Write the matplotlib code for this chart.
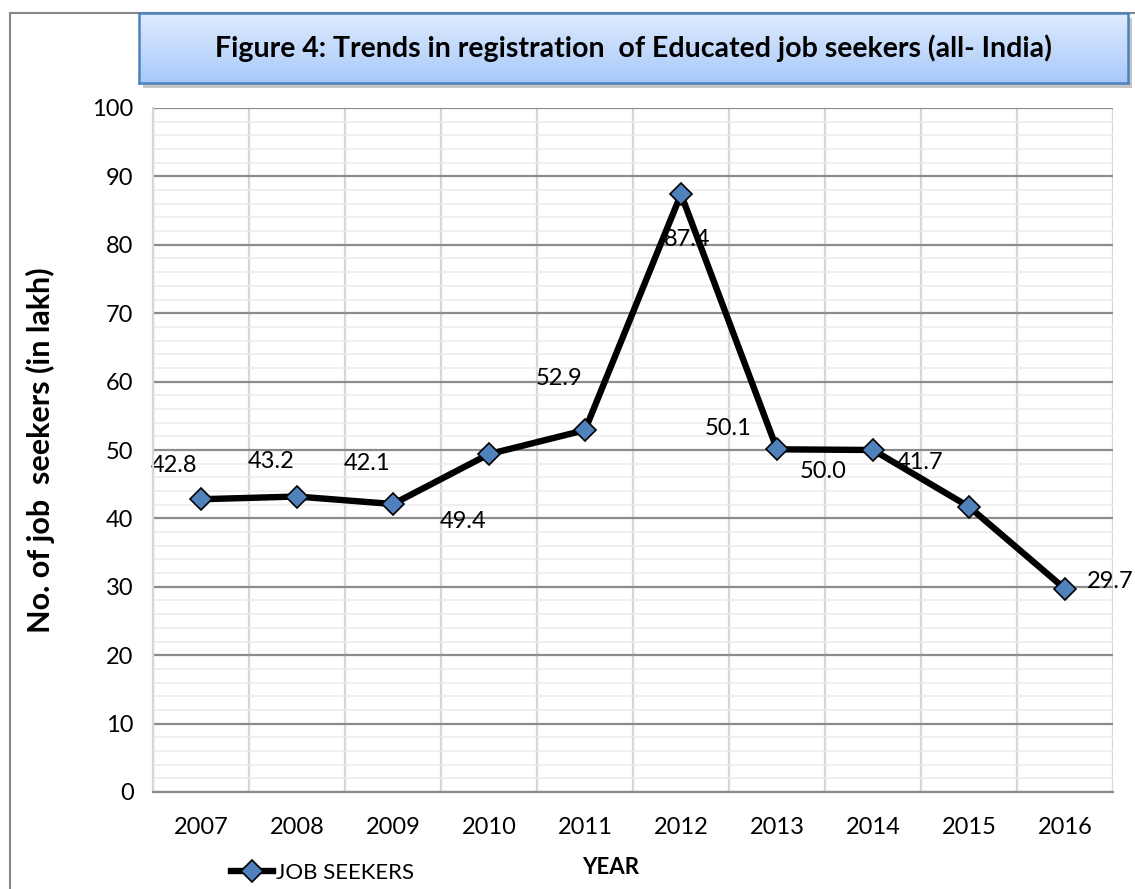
import numpy as np
import matplotlib.pyplot as plt
from matplotlib.patches import Rectangle

years = ["2007", "2008", "2009", "2010", "2011", "2012", "2013", "2014", "2015", "2016"]
job_seekers = [42.8, 43.2, 42.1, 49.4, 52.9, 87.4, 50.1, 50.0, 41.7, 29.7]
value_labels = ["42.8", "43.2", "42.1", "49.4", "52.9", "87.4", "50.1", "50.0", "41.7", "29.7"]
yticks = [0, 10, 20, 30, 40, 50, 60, 70, 80, 90, 100]

# label offsets in pixels (dx, dy)
label_offsets = [(-27, 34), (-26, 35), (-26, 41), (-26, -67), (-26, 52),
                 (6, -45), (-49, 21), (-50, -21), (-49, 44), (45, 7)]

plt.rcParams["font.family"] = ["Lato", "DejaVu Sans"]

W, H = 1135, 889
fig = plt.figure(figsize=(W / 100, H / 100), dpi=100)

def fx(px):
    return px / W

def fy(py):
    return 1 - py / H

# outer chart border
fig.add_artist(Rectangle((fx(10), fy(895)), fx(1140) - fx(10), fy(13) - fy(895),
                         transform=fig.transFigure, fill=False, edgecolor="#868686",
                         lw=1.5, zorder=-2))

ax = fig.add_axes([fx(153), fy(792), fx(1113) - fx(153), fy(108) - fy(792)])
x = np.arange(len(years))

ax.set_xlim(-0.5, len(years) - 0.5)
ax.set_ylim(0, 100)
ax.set_yticks(yticks)
ax.set_yticks(np.arange(0, 101, 2), minor=True)
ax.set_xticks(x)
ax.set_xticklabels(years)
ax.set_xticks(np.arange(-0.5, len(years), 1), minor=True)

ax.grid(axis="y", which="minor", color="#ececec", lw=1.2, zorder=0)
ax.grid(axis="x", which="minor", color="#d6d6d6", lw=1.6, zorder=0)
ax.grid(axis="y", which="major", color="#8c8c8c", lw=1.6, zorder=0)
ax.grid(axis="x", which="major", visible=False)
ax.set_axisbelow(True)

for s in ["top", "right"]:
    ax.spines[s].set_visible(False)
ax.spines["left"].set_color("#d6d6d6")
ax.spines["left"].set_linewidth(1.6)
ax.spines["bottom"].set_color("#8c8c8c")
ax.spines["bottom"].set_linewidth(1.6)

ax.tick_params(axis="both", which="both", length=0)
ax.tick_params(axis="y", labelsize=17, pad=14)
ax.tick_params(axis="x", labelsize=17, pad=18)

for i, v in enumerate(job_seekers):
    dx, dy = label_offsets[i]
    ax.annotate(value_labels[i], (x[i], v), xytext=(dx * 0.72, dy * 0.72),
                textcoords="offset points", ha="center", va="center",
                fontsize=17, zorder=2)

ax.plot(x, job_seekers, color="black", lw=4.6, marker="D", markersize=11,
        markerfacecolor="#4f81bd", markeredgecolor="black", markeredgewidth=1.2,
        zorder=3, clip_on=False, label="JOB SEEKERS")

fig.text(fx(40), fy(450), "No. of job  seekers (in lakh)", rotation=90,
         ha="center", va="center", fontsize=22, fontweight="bold")
fig.text(fx(611), fy(868), "YEAR", ha="center", va="center",
         fontsize=16, fontweight="bold")

ax.legend(loc="center left", bbox_to_anchor=(fx(220), fy(873)),
          bbox_transform=fig.transFigure, frameon=False, fontsize=16,
          handlelength=1.9, handletextpad=0.1, borderpad=0)

# title box with gradient and shadow
x0, y0, x1, y1 = 139, 13, 1128, 83
fig.add_artist(Rectangle((fx(x0 + 4), fy(y1 + 5)), fx(x1) - fx(x0), fy(y0) - fy(y1),
                         transform=fig.transFigure, facecolor="#a0a0a0",
                         edgecolor="none", alpha=0.6, zorder=-1))
tax = fig.add_axes([fx(x0), fy(y1), fx(x1) - fx(x0), fy(y0) - fy(y1)])
tax.set_zorder(5)
grad = np.linspace(0, 1, 100).reshape(-1, 1)
top = np.array([0.87, 0.92, 0.99])
bot = np.array([0.66, 0.79, 0.98])
img = top[None, None, :] * (1 - grad[:, :, None]) + bot[None, None, :] * grad[:, :, None]
tax.imshow(img, aspect="auto", extent=(0, 1, 0, 1))
tax.set_xticks([])
tax.set_yticks([])
for s in tax.spines.values():
    s.set_color("#4f81bd")
    s.set_linewidth(1.8)
tax.text(0.5, 0.5, "Figure 4: Trends in registration  of Educated job seekers (all- India)",
         ha="center", va="center", fontsize=20.5, fontweight="bold", transform=tax.transAxes)

fig.savefig("out.png", dpi=100)
